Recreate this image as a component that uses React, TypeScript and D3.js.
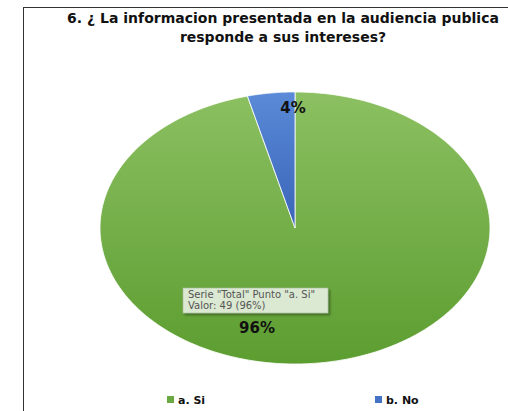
import React, { useEffect, useRef } from "react";
import * as d3 from "d3";

const categories = ["a. Si", "b. No"];
const values = [49, 2];
const percentLabels = ["96%", "4%"];
const titleLines = ["6. ¿ La informacion presentada en la audiencia publica", "responde a sus intereses?"];

const W = 508;
const H = 411;

const App = () => {
  const ref = useRef(null);

  useEffect(() => {
    const svg = d3.select(ref.current);
    svg.selectAll("*").remove();
    svg.attr("width", W).attr("height", H);

    const defs = svg.append("defs");
    const grads = [
      ["gSi", "#8cc062", "#5c9d30"],
      ["gNo", "#5a8ad8", "#3a64b8"],
    ];
    grads.forEach(([id, c1, c2]) => {
      const g = defs.append("linearGradient").attr("id", id).attr("x1", 0).attr("y1", 0).attr("x2", 0).attr("y2", 1);
      g.append("stop").attr("offset", "0%").attr("stop-color", c1);
      g.append("stop").attr("offset", "100%").attr("stop-color", c2);
    });
    const sh = defs.append("filter").attr("id", "shadow").attr("x", "-10%").attr("y", "-20%").attr("width", "130%").attr("height", "160%");
    sh.append("feDropShadow").attr("dx", 2).attr("dy", 2).attr("stdDeviation", 1.2).attr("flood-color", "#000").attr("flood-opacity", 0.35);

    // frame
    svg.append("rect").attr("x", 23.5).attr("y", 7.5).attr("width", W).attr("height", H).attr("fill", "white").attr("stroke", "#333").attr("stroke-width", 1);

    const font = "'DejaVu Sans', Verdana, sans-serif";

    svg
      .append("g")
      .selectAll("text")
      .data(titleLines)
      .enter()
      .append("text")
      .attr("x", 283)
      .attr("y", (d, i) => 23 + i * 19)
      .attr("text-anchor", "middle")
      .attr("font-family", font)
      .attr("font-weight", "bold")
      .attr("font-size", "14px")
      .attr("fill", "#111")
      .text((d) => d);

    const cx = 295;
    const cy = 228;
    const rx = 195;
    const ry = 136;

    const pie = d3.pie().sort(null).value((d) => d);
    const arcs = pie(values);

    const colors = ["url(#gSi)", "url(#gNo)"];
    const pg = svg.append("g").attr("transform", `translate(${cx},${cy})`);
    pg.selectAll("path")
      .data(arcs)
      .enter()
      .append("path")
      .attr("d", (d) => {
        const pts = [];
        const steps = 200;
        pts.push([0, 0]);
        for (let k = 0; k <= steps; k++) {
          const a = d.startAngle + ((d.endAngle - d.startAngle) * k) / steps;
          pts.push([rx * Math.sin(a), -ry * Math.cos(a)]);
        }
        return d3.line()(pts) + "Z";
      })
      .attr("fill", (d, i) => colors[i])
      .attr("stroke", "white")
      .attr("stroke-width", 0.8);

    // labels
    const labelPos = [
      [-38, 105],
      [-2, -115],
    ];
    pg.selectAll("text.lab")
      .data(arcs)
      .enter()
      .append("text")
      .attr("class", "lab")
      .attr("x", (d, i) => labelPos[i][0])
      .attr("y", (d, i) => labelPos[i][1])
      .attr("text-anchor", "middle")
      .attr("font-family", font)
      .attr("font-weight", "bold")
      .attr("font-size", "15px")
      .attr("fill", "#111")
      .text((d, i) => percentLabels[i]);

    // tooltip
    const total = d3.sum(values);
    const tip = svg.append("g").attr("transform", "translate(183,288)");
    tip.append("rect").attr("width", 145).attr("height", 25).attr("fill", "#dbe8d2").attr("stroke", "#a8b8a0").attr("stroke-width", 0.6).attr("filter", "url(#shadow)");
    const tipLines = [`Serie "Total" Punto "${categories[0]}"`, `Valor: ${values[0]} (${Math.round((values[0] / total) * 100)}%)`];
    tip
      .selectAll("text")
      .data(tipLines)
      .enter()
      .append("text")
      .attr("x", 5)
      .attr("y", (d, i) => 10 + i * 11)
      .attr("font-family", font)
      .attr("font-size", "10px")
      .attr("fill", "#555")
      .text((d) => d);

    // legend
    const legendX = [167, 375];
    const lg = svg.append("g");
    const solid = ["#6aa842", "#4472c4"];
    categories.forEach((c, i) => {
      lg.append("rect").attr("x", legendX[i]).attr("y", 396).attr("width", 7).attr("height", 7).attr("fill", solid[i]);
      lg.append("text")
        .attr("x", legendX[i] + 11)
        .attr("y", 403.5)
        .attr("font-family", font)
        .attr("font-weight", "bold")
        .attr("font-size", "11px")
        .attr("fill", "#111")
        .text(c);
    });
  }, []);

  return <svg ref={ref} style={{ position: "absolute", left: 0, top: 0, display: "block" }}></svg>;
};

export default App;
